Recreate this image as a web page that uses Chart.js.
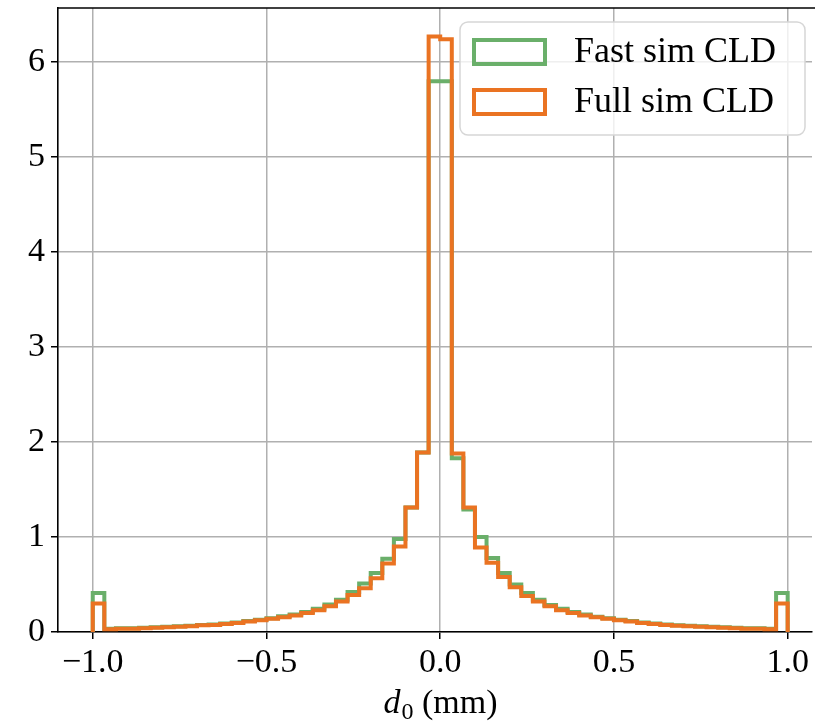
<!DOCTYPE html>
<html>
<head>
<meta charset="utf-8">
<script src="https://cdn.jsdelivr.net/npm/chart.js@4"></script>
<style>
  html, body { margin: 0; padding: 0; background: #fff; }
  #wrap { width: 815px; height: 723px; position: relative; }
</style>
</head>
<body>
<div id="wrap"><canvas id="chart" width="815" height="723"></canvas></div>
<script>
// histogram binning
const binMin = -1.0;
const binMax = 1.0;
const binCount = 60;

// bin heights (density)
const fastSimCLD = [
    0.41, 0.035, 0.04, 0.04, 0.045, 0.05, 0.055, 0.06, 0.065, 0.075,
    0.08, 0.09, 0.10, 0.115, 0.13, 0.145, 0.165, 0.185, 0.21, 0.245,
    0.29, 0.34, 0.42, 0.51, 0.62, 0.77, 0.98, 1.31, 1.89, 5.80,
    5.80, 1.83, 1.29, 1.00, 0.78, 0.62, 0.50, 0.41, 0.34, 0.285,
    0.245, 0.21, 0.185, 0.16, 0.145, 0.13, 0.115, 0.10, 0.09, 0.08,
    0.07, 0.065, 0.06, 0.055, 0.05, 0.045, 0.04, 0.04, 0.035, 0.41
];
const fullSimCLD = [
    0.30, 0.03, 0.035, 0.035, 0.04, 0.045, 0.05, 0.055, 0.06, 0.07,
    0.075, 0.085, 0.095, 0.11, 0.125, 0.14, 0.155, 0.175, 0.20, 0.23,
    0.27, 0.32, 0.39, 0.46, 0.565, 0.72, 0.90, 1.31, 1.89, 6.27,
    6.24, 1.88, 1.31, 0.89, 0.73, 0.58, 0.47, 0.38, 0.32, 0.27,
    0.23, 0.20, 0.175, 0.155, 0.14, 0.125, 0.11, 0.095, 0.085, 0.075,
    0.065, 0.06, 0.055, 0.05, 0.045, 0.04, 0.035, 0.035, 0.03, 0.30
];

const seriesLabels = ['Fast sim CLD', 'Full sim CLD'];
const xTickValues = [-1.0, -0.5, 0.0, 0.5, 1.0];
const xTickLabels = ['\u22121.0', '\u22120.5', '0.0', '0.5', '1.0'];
const yTickValues = [0, 1, 2, 3, 4, 5, 6];
const yTickLabels = ['0', '1', '2', '3', '4', '5', '6'];

const GREEN = '#6aaf6a';
const ORANGE = '#ea7322';
const FONT = '"Liberation Serif", "DejaVu Serif", serif';

// outline of a step histogram: (edge, 0) up, across each bin, back down to 0
function stepOutline(values) {
    const w = (binMax - binMin) / binCount;
    const pts = [{ x: binMin, y: 0 }];
    values.forEach((v, i) => {
        pts.push({ x: binMin + i * w, y: v });
        pts.push({ x: binMin + (i + 1) * w, y: v });
    });
    pts.push({ x: binMax, y: 0 });
    return pts;
}

const framePlugin = {
    id: 'frame',
    afterDraw(chart) {
        const { ctx, chartArea: a } = chart;
        ctx.save();
        // top spine
        ctx.strokeStyle = '#000';
        ctx.lineWidth = 1.6;
        ctx.beginPath();
        ctx.moveTo(a.left - 0.8, a.top);
        ctx.lineTo(a.right + 5, a.top);
        ctx.stroke();

        // legend box, matplotlib style
        const bx = 460, by = 22, bw = 345, bh = 113, r = 8;
        ctx.fillStyle = 'rgba(255,255,255,0.8)';
        ctx.strokeStyle = '#d6d6d6';
        ctx.lineWidth = 1.5;
        ctx.beginPath();
        ctx.roundRect(bx, by, bw, bh, r);
        ctx.fill();
        ctx.stroke();

        chart.data.datasets.forEach((ds, i) => {
            const py = 40 + i * 50;
            ctx.strokeStyle = ds.borderColor;
            ctx.lineWidth = 4;
            ctx.lineJoin = 'miter';
            ctx.strokeRect(474, py, 71, 24);
            ctx.fillStyle = '#000';
            ctx.font = '36px ' + FONT;
            ctx.textBaseline = 'middle';
            ctx.textAlign = 'left';
            ctx.fillText(ds.label, 574, py + 13);
        });

        // x axis title: d_0 (mm)
        ctx.fillStyle = '#000';
        ctx.textBaseline = 'alphabetic';
        ctx.textAlign = 'left';
        const base = 713;
        ctx.font = 'italic 34px ' + FONT;
        const wD = ctx.measureText('d').width;
        ctx.font = '24px ' + FONT;
        const w0 = ctx.measureText('0').width;
        ctx.font = '34px ' + FONT;
        const wRest = ctx.measureText(' (mm)').width;
        let x = 440 - (wD + w0 + wRest) / 2;
        ctx.font = 'italic 34px ' + FONT;
        ctx.fillText('d', x, base);
        x += wD + 1;
        ctx.font = '24px ' + FONT;
        ctx.fillText('0', x, base + 6);
        x += w0;
        ctx.font = '34px ' + FONT;
        ctx.fillText(' (mm)', x, base);
        ctx.restore();
    }
};

const ctx = document.getElementById('chart').getContext('2d');
new Chart(ctx, {
    type: 'line',
    data: {
        datasets: [
            {
                label: seriesLabels[0],
                data: stepOutline(fastSimCLD),
                borderColor: GREEN,
                borderWidth: 4,
                order: 1
            },
            {
                label: seriesLabels[1],
                data: stepOutline(fullSimCLD),
                borderColor: ORANGE,
                borderWidth: 4,
                order: 0
            }
        ]
    },
    options: {
        responsive: false,
        animation: false,
        layout: { padding: { left: 0, right: 3, top: 8, bottom: 0 } },
        elements: {
            point: { radius: 0 },
            line: { tension: 0, fill: false, borderJoinStyle: 'miter', borderCapStyle: 'butt' }
        },
        scales: {
            x: {
                type: 'linear',
                min: -1.1,
                max: 1.07,
                afterBuildTicks: s => { s.ticks = xTickValues.map(v => ({ value: v })); },
                afterFit: s => { s.height = 91; },
                grid: { color: '#b0b0b0', lineWidth: 1.5, tickColor: '#000', tickLength: 7, drawTicks: true },
                border: { display: true, color: '#000', width: 1.6 },
                ticks: {
                    color: '#000',
                    font: { family: FONT, size: 34 },
                    padding: 4,
                    maxRotation: 0,
                    autoSkip: false,
                    callback: v => xTickLabels[xTickValues.indexOf(v)]
                }
            },
            y: {
                min: 0,
                max: 6.57,
                afterBuildTicks: s => { s.ticks = yTickValues.map(v => ({ value: v })); },
                afterFit: s => { s.width = 58; s.paddingTop = 0; s.paddingBottom = 0; },
                grid: { color: '#b0b0b0', lineWidth: 1.5, tickColor: '#000', tickLength: 7, drawTicks: true },
                border: { display: true, color: '#000', width: 1.6 },
                ticks: {
                    color: '#000',
                    font: { family: FONT, size: 34 },
                    padding: 6,
                    autoSkip: false,
                    callback: v => yTickLabels[yTickValues.indexOf(v)]
                }
            }
        },
        plugins: {
            legend: { display: false },
            tooltip: { enabled: false }
        }
    },
    plugins: [framePlugin]
});
</script>
</body>
</html>
